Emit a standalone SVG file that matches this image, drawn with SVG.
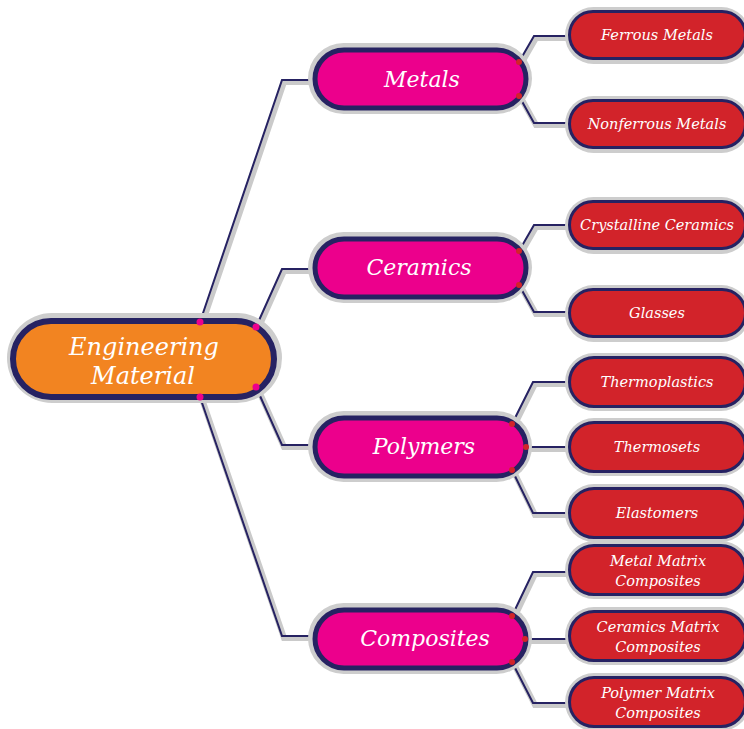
<svg xmlns="http://www.w3.org/2000/svg" width="744" height="729" viewBox="0 0 744 729">
<style>
.halo{fill:#cdcdcd}
.root{fill:#f28421;stroke:#262262;stroke-width:6}
.mid{fill:#ec008c;stroke:#262262;stroke-width:5}
.leaf{fill:#d2232a;stroke:#262262;stroke-width:3}
.lshadow{fill:none;stroke:#cacaca;stroke-width:6;stroke-linejoin:miter}
.line{fill:none;stroke:#262262;stroke-width:2;stroke-linejoin:miter}
.pdot{fill:#ec008c}
.rdot{fill:#d2232a}
text{font-family:"DejaVu Serif","Liberation Serif",serif;font-style:italic;fill:#ffffff;text-anchor:middle}
.t-root{font-size:24px}
.t-mid{font-size:22px}
.t-leaf{font-size:14.5px}
</style>
<g id="connectors">
<g class="lshadow" transform="translate(2,2)">
<path d="M200,322 L282,80 L312,80"/>
<path d="M256,327 L282,269 L312,269"/>
<path d="M256,387 L282,445 L312,445"/>
<path d="M200,397 L282,636 L312,636"/>
<path d="M519,62 L534,36 L569,36"/>
<path d="M519,96 L534,123 L569,123"/>
<path d="M519,251 L534,225 L569,225"/>
<path d="M519,285 L534,312 L569,312"/>
<path d="M512,424 L533,382 L569,382"/>
<path d="M526,447 L569,447"/>
<path d="M512,470 L533,513 L569,513"/>
<path d="M512,616 L533,572 L569,572"/>
<path d="M525,639 L569,639"/>
<path d="M512,662 L533,703 L569,703"/>
</g>
<g class="line">
<path d="M200,322 L282,80 L312,80"/>
<path d="M256,327 L282,269 L312,269"/>
<path d="M256,387 L282,445 L312,445"/>
<path d="M200,397 L282,636 L312,636"/>
<path d="M519,62 L534,36 L569,36"/>
<path d="M519,96 L534,123 L569,123"/>
<path d="M519,251 L534,225 L569,225"/>
<path d="M519,285 L534,312 L569,312"/>
<path d="M512,424 L533,382 L569,382"/>
<path d="M526,447 L569,447"/>
<path d="M512,470 L533,513 L569,513"/>
<path d="M512,616 L533,572 L569,572"/>
<path d="M525,639 L569,639"/>
<path d="M512,662 L533,703 L569,703"/>
</g>
</g>
<g id="root">
<rect class="halo" x="7" y="313" width="275" height="90" rx="45"/>
<rect class="root" x="13" y="321" width="261" height="76" rx="38"/>
<circle class="pdot" cx="200" cy="322" r="3.5"/>
<circle class="pdot" cx="256" cy="327" r="3.5"/>
<circle class="pdot" cx="256" cy="387" r="3.5"/>
<circle class="pdot" cx="200" cy="397" r="3.5"/>
<text class="t-root" x="144" y="355">Engineering</text>
<text class="t-root" x="143" y="384">Material</text>
</g>
<g id="metals">
<rect class="halo" x="308" y="43" width="224" height="71" rx="35.5"/>
<rect class="mid" x="315" y="50" width="211" height="58" rx="29"/>
<circle class="rdot" cx="519" cy="62" r="3"/>
<circle class="rdot" cx="519" cy="96" r="3"/>
<text class="t-mid" x="422" y="87">Metals</text>
</g>
<g id="ceramics">
<rect class="halo" x="308" y="232" width="224" height="71" rx="35.5"/>
<rect class="mid" x="315" y="239" width="211" height="58" rx="29"/>
<circle class="rdot" cx="519" cy="251" r="3"/>
<circle class="rdot" cx="519" cy="285" r="3"/>
<text class="t-mid" x="419" y="275">Ceramics</text>
</g>
<g id="polymers">
<rect class="halo" x="308" y="411" width="224" height="71" rx="35.5"/>
<rect class="mid" x="315" y="418" width="211" height="58" rx="29"/>
<circle class="rdot" cx="512" cy="424" r="3"/>
<circle class="rdot" cx="526" cy="447" r="3"/>
<circle class="rdot" cx="512" cy="470" r="3"/>
<text class="t-mid" x="424" y="454">Polymers</text>
</g>
<g id="composites">
<rect class="halo" x="308" y="603" width="224" height="71" rx="35.5"/>
<rect class="mid" x="315" y="610" width="211" height="58" rx="29"/>
<circle class="rdot" cx="512" cy="616" r="3"/>
<circle class="rdot" cx="525" cy="639" r="3"/>
<circle class="rdot" cx="512" cy="662" r="3"/>
<text class="t-mid" x="425" y="646">Composites</text>
</g>
<g id="ferrous">
<rect class="halo" x="565" y="7" width="185" height="57" rx="28.5"/>
<rect class="leaf" x="569.5" y="11.5" width="176" height="47" rx="23.5"/>
<text class="t-leaf" x="657" y="40">Ferrous Metals</text>
</g>
<g id="nonferrous">
<rect class="halo" x="565" y="96" width="185" height="57" rx="28.5"/>
<rect class="leaf" x="569.5" y="100.5" width="176" height="47" rx="23.5"/>
<text class="t-leaf" x="657" y="129">Nonferrous Metals</text>
</g>
<g id="crystalline">
<rect class="halo" x="565" y="197" width="185" height="57" rx="28.5"/>
<rect class="leaf" x="569.5" y="201.5" width="176" height="47" rx="23.5"/>
<text class="t-leaf" x="657" y="230">Crystalline Ceramics</text>
</g>
<g id="glasses">
<rect class="halo" x="565" y="285" width="185" height="57" rx="28.5"/>
<rect class="leaf" x="569.5" y="289.5" width="176" height="47" rx="23.5"/>
<text class="t-leaf" x="657" y="318">Glasses</text>
</g>
<g id="thermoplastics">
<rect class="halo" x="565" y="353" width="185" height="58" rx="29"/>
<rect class="leaf" x="569.5" y="357.5" width="176" height="49" rx="24.5"/>
<text class="t-leaf" x="657" y="387">Thermoplastics</text>
</g>
<g id="thermosets">
<rect class="halo" x="565" y="418" width="185" height="58" rx="29"/>
<rect class="leaf" x="569.5" y="422.5" width="176" height="49" rx="24.5"/>
<text class="t-leaf" x="657" y="452">Thermosets</text>
</g>
<g id="elastomers">
<rect class="halo" x="565" y="484" width="185" height="58" rx="29"/>
<rect class="leaf" x="569.5" y="488.5" width="176" height="49" rx="24.5"/>
<text class="t-leaf" x="657" y="518">Elastomers</text>
</g>
<g id="mmc">
<rect class="halo" x="565" y="541" width="185" height="58" rx="29"/>
<rect class="leaf" x="569.5" y="545.5" width="176" height="49" rx="24.5"/>
<text class="t-leaf" x="658" y="566">Metal Matrix</text>
<text class="t-leaf" x="658" y="586">Composites</text>
</g>
<g id="cmc">
<rect class="halo" x="565" y="607" width="185" height="58" rx="29"/>
<rect class="leaf" x="569.5" y="611.5" width="176" height="49" rx="24.5"/>
<text class="t-leaf" x="658" y="632">Ceramics Matrix</text>
<text class="t-leaf" x="658" y="652">Composites</text>
</g>
<g id="pmc">
<rect class="halo" x="565" y="673" width="185" height="58" rx="29"/>
<rect class="leaf" x="569.5" y="677.5" width="176" height="49" rx="24.5"/>
<text class="t-leaf" x="658" y="698">Polymer Matrix</text>
<text class="t-leaf" x="658" y="718">Composites</text>
</g>
</svg>
